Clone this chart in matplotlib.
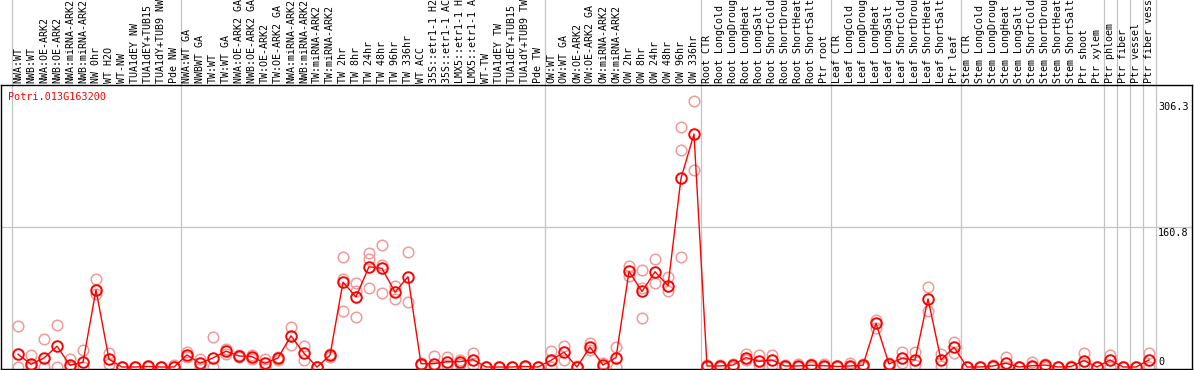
import matplotlib
matplotlib.use("Agg")
import matplotlib.pyplot as plt
import matplotlib.transforms as mtransforms

# sample names, in plot order
labels = [
    "NWA:WT", "NWB:WT", "NWA:OE-ARK2", "NWB:OE-ARK2", "NWA:miRNA-ARK2", "NWB:miRNA-ARK2",
    "NW 0hr", "WT H2O", "WT-NW", "TUA1dEY NW", "TUA1dEY+TUB15 NW", "TUA1dY+TUB9 NW", "Pde NW",
    "NWA:WT GA", "NWBWT GA", "TW:WT", "TW:WT GA", "NWA:OE-ARK2 GA", "NWB:OE-ARK2 GA",
    "TW:OE-ARK2", "TW:OE-ARK2 GA", "NWA:miRNA-ARK2", "NWB:miRNA-ARK2", "TW:miRNA-ARK2",
    "TW:miRNA-ARK2", "TW 2hr", "TW 8hr", "TW 24hr", "TW 48hr", "TW 96hr", "TW 336hr",
    "WT ACC", "35S::etr1-1 H2O", "35S::etr1-1 ACC", "LMX5::etr1-1 H2O", "LMX5::etr1-1 ACC",
    "WT-TW", "TUA1dEY TW", "TUA1dEY+TUB15 TW", "TUA1dY+TUB9 TW", "Pde TW",
    "OW:WT", "OW:WT GA", "OW:OE-ARK2", "OW:OE-ARK2 GA", "OW:miRNA-ARK2", "OW:miRNA-ARK2",
    "OW 2hr", "OW 8hr", "OW 24hr", "OW 48hr", "OW 96hr", "OW 336hr",
    "Root CTR", "Root LongCold", "Root LongDrought", "Root LongHeat", "Root LongSalt",
    "Root ShortCold", "Root ShortDrought", "Root ShortHeat", "Root ShortSalt", "Ptr root",
    "Leaf CTR", "Leaf LongCold", "Leaf LongDrought", "Leaf LongHeat", "Leaf LongSalt",
    "Leaf ShortCold", "Leaf ShortDrought", "Leaf ShortHeat", "Leaf ShortSalt", "Ptr leaf",
    "Stem CTR", "Stem LongCold", "Stem LongDrought", "Stem LongHeat", "Stem LongSalt",
    "Stem ShortCold", "Stem ShortDrought", "Stem ShortHeat", "Stem ShortSalt", "Ptr shoot",
    "Ptr xylem", "Ptr phloem", "Ptr fiber", "Ptr vessel", "Ptr fiber vessel",
]

# first sample of each experiment block (vertical separators)
group_starts = [0, 13, 41, 53, 63, 73, 84, 85, 86, 87, 88]

# mean expression per sample
mean_expr = [
    14.7, 3.1, 10.4, 23.9, 2.0, 5.4, 88.7, 8.9, 0, 0, 0.6, 0, 0,
    13.9, 4.3, 10.4, 18.2, 12.7, 11.9, 4.3, 10.4, 35.9, 15.8, 0, 13.5,
    97.5, 80.6, 115.3, 113.4, 86.0, 103.8, 3.8, 3.8, 6.2, 6.2, 8.5, 0, 0, 0, 0.6, 0,
    7.7, 17.0, 0, 23.0, 2.3, 10.8, 109.9, 86.8, 109.5, 93.4, 216.9, 267.8,
    1.2, 1.2, 2.3, 10.8, 6.5, 8.0, 1.2, 1.2, 2.0, 1.5,
    0.6, 1.2, 2.0, 50.2, 3.5, 10.0, 8.1, 78.3, 8.1, 22.8,
    0, 0, 1.2, 4.3, 0, 1.5, 2.3, 0, 0.5, 7.3, 0,
    8.1, 0, 0, 8.1,
]

# replicate values (highest and lowest visible replicate)
rep_hi = [
    46.6, 13.5, 32.4, 48.2, 8.9, 19.7, 100.6, 16.2, 0, 0, 1.5, 0, 2.3,
    17.0, 8.9, 34.3, 21.2, 14.0, 13.9, 9.6, 12.0, 45.9, 24.3, 0, 15.0,
    126.9, 96.8, 131.5, 140.0, 92.9, 132.7, 5.0, 12.7, 11.9, 8.0, 16.2, 0, 0, 0, 1.5, 0,
    18.5, 24.3, 1.0, 28.1, 5.0, 23.5, 116.0, 111.9, 124.6, 103.0, 275.5, 306.3,
    2.0, 2.0, 4.0, 15.0, 13.5, 13.9, 2.0, 3.0, 4.0, 3.0,
    1.0, 5.0, 3.0, 54.0, 5.0, 17.6, 17.6, 92.2, 15.0, 29.3,
    0, 0, 2.0, 11.2, 0, 5.2, 3.0, 0, 1.0, 16.5, 0,
    13.9, 0, 0, 16.5,
]
rep_lo = [
    0, 0, 0, 0, 0, 0, 84.1, 3.1, 0, 0, 0, 0, 0,
    12.0, 0, 0, 15.0, 11.0, 9.0, 0, 8.0, 25.1, 8.1, 0, 12.0,
    64.4, 57.0, 91.0, 85.3, 78.3, 74.4, 2.0, 0, 2.0, 4.0, 2.0, 0, 0, 0, 0, 0,
    0, 8.1, 0, 20.0, 0, 0, 104.5, 56.7, 96.8, 87.6, 126.4, 226.0,
    0, 0, 0, 8.0, 2.0, 2.3, 0, 0, 0, 0,
    0, 0, 0, 44.5, 1.0, 4.3, 2.3, 64.0, 1.5, 16.5,
    0, 0, 0, 0, 0, 0, 0, 0, 0, 2.3, 0,
    0, 0, 0, 0,
]
# third replicate where it sits away from the mean
extra_idx = [25, 26, 27, 28, 48, 51]
extra_val = [100.6, 87.1, 123.8, 116.8, 91.0, 249.1]

gene = "Potri.013G163200"
y_ticks = [306.3, 160.8, 0]

W, H = 1194, 370
X0, STEP = 18.0, 13.0        # pixel centre of first sample, pixels per sample
Y0, SCALE = 367.0, 0.87      # pixel row of zero, pixels per unit
top_px, bot_px, left_px, right_px = 85, 369, 1, 1192

fig = plt.figure(figsize=(W / 100, H / 100), dpi=100)
ax = fig.add_axes([left_px / W, (H - bot_px) / H,
                   (right_px - left_px) / W, (bot_px - top_px) / H])
ax.set_xlim((left_px - X0) / STEP, (right_px - X0) / STEP)
ax.set_ylim((Y0 - bot_px) / SCALE, (Y0 - top_px) / SCALE)
ax.set_xticks([])
ax.set_yticks([])
for s in ax.spines.values():
    s.set_color("black")
    s.set_linewidth(1.0)

grid_col = "#c4c4c4"
ax_h = bot_px - top_px
for g in group_starts:
    ax.axvline(g - 0.5, ymin=0, ymax=1 + top_px / ax_h, color=grid_col,
               lw=0.9, clip_on=False, zorder=0)
ax.axhline(y_ticks[1], color=grid_col, lw=0.9, zorder=0)

x = list(range(len(labels)))
mk = dict(marker="o", ms=7.6, mfc="none", linestyle="none")
ax.plot(x, rep_hi, mec="#f09a9a", mew=1.1, zorder=2, **mk)
ax.plot(x, rep_lo, mec="#f09a9a", mew=1.1, zorder=2, **mk)
ax.plot(extra_idx, extra_val, mec="#f09a9a", mew=1.1, zorder=2, **mk)
ax.plot(x, mean_expr, color="red", lw=1.0, zorder=3)
ax.plot(x, mean_expr, mec="red", mew=1.4, zorder=4, **mk)

# rotated sample names above the plot
trans = mtransforms.blended_transform_factory(ax.transData, ax.transAxes)
for i, lab in enumerate(labels):
    ax.text(i, 1 + 2 / ax_h, lab, transform=trans, rotation=90, ha="center",
            va="bottom", fontsize=7.2, family="DejaVu Sans Mono", clip_on=False)

fig.text(8 / W, 1 - 97 / H, gene, color="red", va="center",
         fontsize=7.3, family="DejaVu Sans Mono")
for v in y_ticks:
    ypx = Y0 - v * SCALE
    if v == 0:
        ypx = 362
    else:
        ypx += 6
    fig.text(1158 / W, 1 - ypx / H, f"{v:g}" if v else "0", va="center",
             fontsize=7.3, family="DejaVu Sans Mono")

fig.savefig("out.png", dpi=100)
